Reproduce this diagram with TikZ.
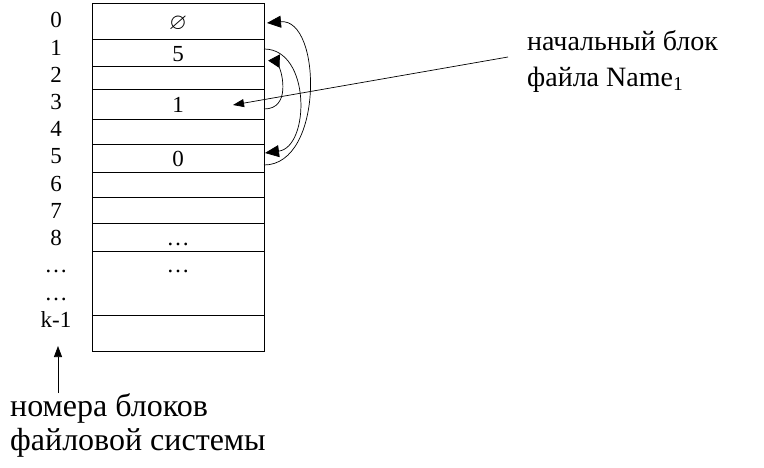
\documentclass[tikz,border=0pt]{standalone}
\usepackage{amssymb}
\usepackage{fontspec}
\setmainfont{Liberation Serif}
\usetikzlibrary{arrows.meta,positioning}
\tikzset{cell/.style={draw, line width=1pt, minimum width=172pt, inner sep=0pt, outer sep=0pt, text height=16pt, text depth=0pt, font=\fontsize{23}{27}\selectfont}, num/.style={inner sep=0pt, text height=16pt, text depth=5pt, font=\fontsize{23}{27}\selectfont}, lab/.style={inner sep=0pt, align=left, anchor=north west, font=\fontsize{28}{36}\selectfont}, ptr/.style={-{Triangle[length=11pt,width=8pt]}, line width=.7pt}, bigptr/.style={-{Triangle[length=14pt,width=12pt]}, line width=.7pt}, revptr/.style={-{Triangle[reversed,length=12pt,width=13pt]}, line width=.7pt}}

\begin{document}
\begin{tikzpicture}[x=1pt,y=-1pt]
\useasboundingbox (0,0) rectangle (764,468);
% table of blocks
\node[cell, minimum height=36pt, anchor=north] (r0) at (178,4) {$\varnothing$};
\node[cell, minimum height=27pt, below=0pt of r0] (r1) {5};
\node[cell, minimum height=23pt, below=0pt of r1] (r2) {};
\node[cell, minimum height=30pt, below=0pt of r2] (r3) {1};
\node[cell, minimum height=25pt, below=0pt of r3] (r4) {};
\node[cell, minimum height=28pt, below=0pt of r4] (r5) {0};
\node[cell, minimum height=25pt, below=0pt of r5] (r6) {};
\node[cell, minimum height=26pt, below=0pt of r6] (r7) {};
\node[cell, minimum height=28pt, below=0pt of r7] (r8) {\dots};
\node[cell, minimum height=63pt, text depth=38pt, below=0pt of r8] (r9) {\dots};
\node[cell, minimum height=36pt, below=0pt of r9] (rk) {};
% block numbers
\foreach \t [count=\i from 0] in {0,1,2,3,4,5,6,7,8,\ldots,\ldots,k-1}
  \node[num, anchor=base] (n\i) at (56,{28+27.2*\i}) {\t};
% chain of blocks
\draw[revptr] ([yshift=-4pt]r3.east) .. controls +(27,0) and +(8,15) .. ([xshift=10pt,yshift=-4pt]r1.east);
\draw[bigptr] ([yshift=4.5pt]r1.east) .. controls +(47,0) and +(45,-6) .. ([xshift=1pt,yshift=6pt]r5.east);
\draw[bigptr] ([yshift=-6pt]r5.east) .. controls +(60,0) and +(55,-5) .. ([xshift=3pt,yshift=-1pt]r0.east);
% labels
\node[lab] (start) at (527,30) {начальный блок\\файла Name\textsubscript{1}};
\node[lab, font=\fontsize{32}{34}\selectfont] (blk) at (10,393) {номера блоков\\файловой системы};
\coordinate (from) at (508,57);
\draw[ptr] (from) -- ([xshift=55pt]r3.center);
\draw[ptr] ([xshift=48pt]blk.north west) -- +(0,-47);
\end{tikzpicture}
\end{document}
